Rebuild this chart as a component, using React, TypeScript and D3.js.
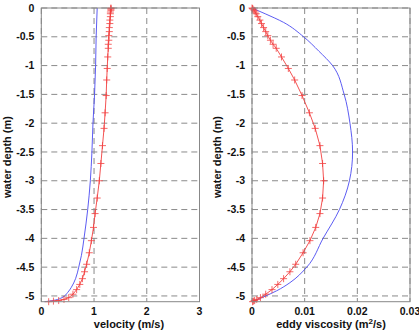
import React from "react";
import * as d3 from "d3";

// depth below surface (m) where the red series has markers
const depthRed = [0, 0.01, 0.02, 0.04, 0.07, 0.1, 0.15, 0.21, 0.27, 0.34, 0.41, 0.48, 0.56, 0.63, 0.7, 0.85, 1.05, 1.25, 1.52, 1.82, 2.09, 2.39, 2.7, 3.0, 3.3, 3.57, 3.81, 4.04, 4.25, 4.45, 4.58, 4.7, 4.8, 4.89, 4.97, 5.03, 5.06, 5.08, 5.09, 5.1];
const velRed = [1.32, 1.32, 1.32, 1.32, 1.31, 1.31, 1.31, 1.3, 1.3, 1.29, 1.29, 1.28, 1.28, 1.27, 1.27, 1.26, 1.25, 1.24, 1.23, 1.21, 1.19, 1.16, 1.13, 1.1, 1.06, 1.02, 0.99, 0.95, 0.91, 0.86, 0.82, 0.78, 0.73, 0.67, 0.6, 0.52, 0.43, 0.33, 0.23, 0.14];
const eddyRed = [0, 0.0001, 0.0002, 0.0004, 0.0006, 0.0008, 0.0011, 0.0015, 0.0018, 0.0022, 0.0026, 0.003, 0.0035, 0.004, 0.0046, 0.0056, 0.0069, 0.0081, 0.0095, 0.0109, 0.012, 0.0129, 0.0134, 0.0136, 0.0134, 0.0129, 0.0121, 0.011, 0.0097, 0.0083, 0.0072, 0.006, 0.0049, 0.0038, 0.0026, 0.0016, 0.0009, 0.0005, 0.0003, 0.0001];

const depthBlueVel = [0, 0.5, 1.0, 1.5, 2.0, 2.5, 3.0, 3.5, 4.0, 4.3, 4.5, 4.7, 4.85, 4.94, 5.03, 5.07, 5.09, 5.1];
const velBlue = [1.06, 1.04, 1.03, 1.01, 0.98, 0.96, 0.93, 0.88, 0.81, 0.76, 0.71, 0.65, 0.57, 0.5, 0.39, 0.27, 0.15, 0.06];

const depthBlueEddy = [0, 0.1, 0.25, 0.5, 0.75, 1.0, 1.5, 2.0, 2.5, 3.0, 3.5, 4.0, 4.5, 4.77, 4.91, 5.02, 5.08, 5.1];
const eddyBlue = [0, 0.0025, 0.006, 0.0098, 0.0127, 0.0153, 0.0175, 0.0186, 0.0191, 0.0185, 0.0166, 0.0135, 0.0104, 0.0072, 0.0047, 0.0021, 0.0006, 0];

const yTicks = [0, -0.5, -1, -1.5, -2, -2.5, -3, -3.5, -4, -4.5, -5];
const velTicks = [0, 1, 2, 3];
const eddyTicks = [0, 0.01, 0.02, 0.03];

const W = 419;
const H = 331;
const top = 8;
const bottom = 301.7;
const font = "'Liberation Sans', Arial, sans-serif";

const y = d3.scaleLinear().domain([-5.1, 0]).range([bottom, top]);

function Panel({ x0, x1, domain, ticks, redX, blueDepth, blueX, label, labelX, labelY, ylabelX }: any) {
  const x = d3.scaleLinear().domain(domain).range([x0, x1]);
  const redLine = d3.line<number>().x((d, i) => x(redX[i])).y((d) => y(-d))(depthRed);
  const blueLine = d3
    .line<number>()
    .x((d, i) => x(blueX[i]))
    .y((d) => y(-d))
    .curve(d3.curveMonotoneY)(blueDepth);
  const grid = "#8a8a8a";
  return (
    <g>
      {yTicks.map((t) => (
        <line key={"gy" + t} x1={x0} x2={x1} y1={y(t)} y2={y(t)} stroke={grid} strokeDasharray="6,4" strokeWidth={1} />
      ))}
      {ticks.map((t: number) => (
        <line key={"gx" + t} x1={x(t)} x2={x(t)} y1={top} y2={bottom} stroke={grid} strokeDasharray="6,4" strokeWidth={1} />
      ))}
      <path d={blueLine || ""} fill="none" stroke="#4a4af0" strokeWidth={0.9} />
      <path d={redLine || ""} fill="none" stroke="#f24040" strokeWidth={0.9} />
      {depthRed.map((d, i) => (
        <g key={"m" + i} stroke="#f24040" strokeWidth={0.8}>
          <line x1={x(redX[i]) - 3.5} x2={x(redX[i]) + 3.5} y1={y(-d)} y2={y(-d)} />
          <line x1={x(redX[i])} x2={x(redX[i])} y1={y(-d) - 3.5} y2={y(-d) + 3.5} />
        </g>
      ))}
      <rect x={x0} y={top} width={x1 - x0} height={bottom - top} fill="none" stroke="#888" strokeWidth={1} />
      {yTicks.map((t) => (
        <text key={"ly" + t} x={x0 - 7} y={y(t)} dy="0.35em" textAnchor="end" fontSize={10.5} fontWeight="bold" fontFamily={font} fill="#111">
          {t}
        </text>
      ))}
      {ticks.map((t: number) => (
        <text key={"lx" + t} x={x(t)} y={315} textAnchor="middle" fontSize={10.5} fontWeight="bold" fontFamily={font} fill="#111">
          {String(t)}
        </text>
      ))}
      <text x={labelX} y={labelY} textAnchor="middle" fontSize={11} fontWeight="bold" fontFamily={font} fill="#111">
        {label}
      </text>
      <text transform={`translate(${ylabelX},157) rotate(-90)`} textAnchor="middle" fontSize={11} fontWeight="bold" fontFamily={font} fill="#111">
        water depth (m)
      </text>
    </g>
  );
}

export default function App() {
  return (
    <svg width={W} height={H} style={{ position: "absolute", left: 0, top: 0, background: "#fff" }}>
      <rect width={W} height={H} fill="#fff" />
      <Panel
        x0={41.3}
        x1={199.5}
        domain={[0, 3]}
        ticks={velTicks}
        redX={velRed}
        blueDepth={depthBlueVel}
        blueX={velBlue}
        label="velocity (m/s)"
        labelX={129}
        labelY={328}
        ylabelX={11}
      />
      <Panel
        x0={252}
        x1={410}
        domain={[0, 0.03]}
        ticks={eddyTicks}
        redX={eddyRed}
        blueDepth={depthBlueEddy}
        blueX={eddyBlue}
        label={
          <>
            eddy viscosity (m<tspan dy="-4" fontSize={8}>2</tspan>
            <tspan dy="4">/s)</tspan>
          </>
        }
        labelX={331}
        labelY={328}
        ylabelX={221}
      />
    </svg>
  );
}
